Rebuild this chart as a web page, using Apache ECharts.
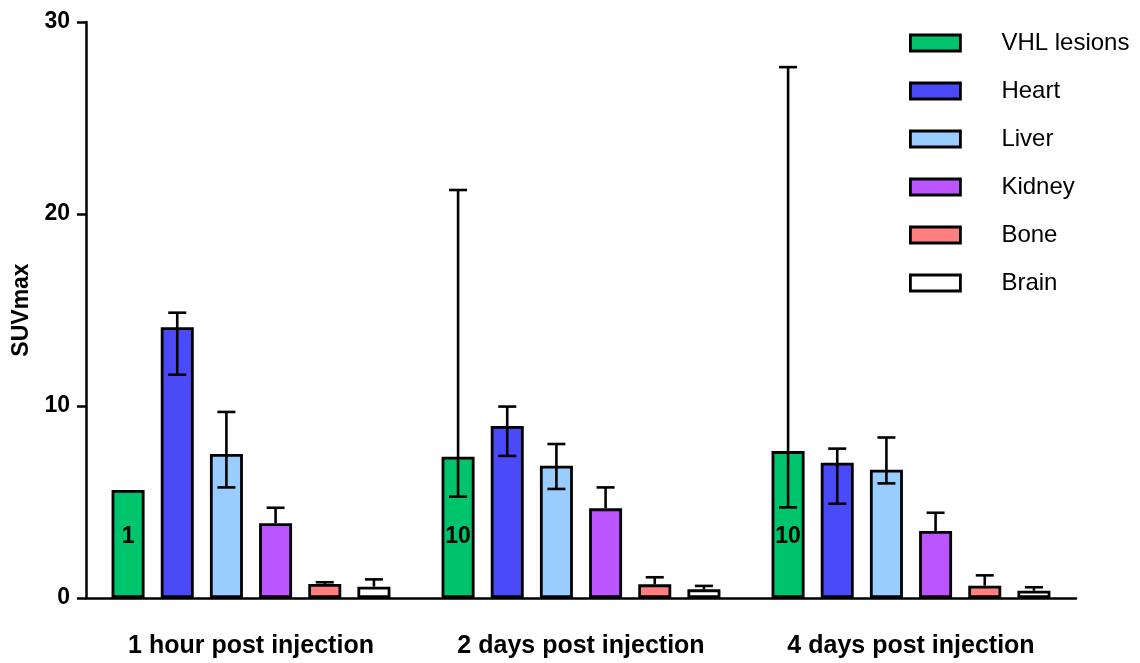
<!DOCTYPE html>
<html>
<head>
<meta charset="utf-8">
<script src="https://cdn.jsdelivr.net/npm/echarts@6/dist/echarts.min.js"></script>
<style>
html,body{margin:0;padding:0;background:#fff;}
#chart{width:1140px;height:663px;}
</style>
</head>
<body>
<div id="chart"></div>
<script>
// ---- data ----
const categories = ['1 hour post injection', '2 days post injection', '4 days post injection'];
const seriesNames = ['VHL lesions', 'Heart', 'Liver', 'Kidney', 'Bone', 'Brain'];
const yTicks = [0, 10, 20, 30];

const vhl    = [5.63, 7.36, 7.65];
const heart  = [14.1, 8.96, 7.05];
const liver  = [7.5, 6.89, 6.68];
const kidney = [3.89, 4.67, 3.49];
const bone   = [0.73, 0.71, 0.64];
const brain  = [0.59, 0.45, 0.38];

const vhlHigh    = [null, 21.25, 27.65];
const vhlLow     = [null, 5.28, 4.72];
const heartHigh  = [14.86, 9.97, 7.78];
const heartLow   = [11.63, 7.40, 4.91];
const liverHigh  = [9.69, 8.02, 8.36];
const liverLow   = [5.76, 5.68, 5.97];
const kidneyHigh = [4.70, 5.76, 4.44];
const kidneyLow  = [null, null, null];
const boneHigh   = [0.82, 1.08, 1.18];
const boneLow    = [null, null, null];
const brainHigh  = [0.97, 0.63, 0.56];
const brainLow   = [null, null, null];

const nLabels = ['1', '10', '10'];

// ---- styling ----
const colors = ['#00C46C', '#4A4AF8', '#99CCFF', '#BB55FF', '#FF7F7F', '#FFFFFF'];
const FONT = '"Liberation Sans", Arial, sans-serif';
const BAR_W = 33;
const BAR_GAP = 0.49;
const PITCH = BAR_W * (1 + BAR_GAP);

const means = [vhl, heart, liver, kidney, bone, brain];
const highs = [vhlHigh, heartHigh, liverHigh, kidneyHigh, boneHigh, brainHigh];
const lows  = [vhlLow, heartLow, liverLow, kidneyLow, boneLow, brainLow];

const series = [];
seriesNames.forEach((name, i) => {
  const s = {
    name: name,
    type: 'bar',
    barWidth: BAR_W,
    barGap: (BAR_GAP * 100) + '%',
    itemStyle: { color: colors[i], borderColor: '#000', borderWidth: 2.8 },
    data: means[i],
    z: 2
  };
  if (i === 0) {
    s.label = {
      show: true,
      position: 'insideBottom',
      distance: 50,
      formatter: (p) => nLabels[p.dataIndex],
      color: '#000',
      fontFamily: FONT,
      fontWeight: 'bold',
      fontSize: 23
    };
  }
  series.push(s);
});

seriesNames.forEach((name, i) => {
  const data = means[i].map((m, k) => [k, m, lows[i][k], highs[i][k]]);
  series.push({
    name: name + ' error',
    type: 'custom',
    z: 5,
    silent: true,
    data: data,
    encode: { x: 0, y: 1 },
    renderItem: function (params, api) {
      const k = api.value(0);
      const m = api.value(1);
      const lo = lows[i][k];
      const hi = highs[i][k];
      if (hi == null) return null;
      const base = api.coord([k, m]);
      const x = base[0] + (i - 2.5) * PITCH;
      const yHi = api.coord([k, hi])[1];
      const yLo = lo != null ? api.coord([k, lo])[1] : base[1];
      const cap = 9;
      const st = { stroke: '#000', lineWidth: 2.6 };
      const children = [
        { type: 'line', shape: { x1: x, y1: yLo, x2: x, y2: yHi }, style: st },
        { type: 'line', shape: { x1: x - cap, y1: yHi, x2: x + cap, y2: yHi }, style: st }
      ];
      if (lo != null) {
        children.push({ type: 'line', shape: { x1: x - cap, y1: yLo, x2: x + cap, y2: yLo }, style: st });
      }
      return { type: 'group', children: children };
    }
  });
});

const chart = echarts.init(document.getElementById('chart'), null, { renderer: 'canvas' });
chart.setOption({
  animation: false,
  backgroundColor: '#fff',
  grid: { left: 86, right: 64, top: 22, bottom: 65, containLabel: false },
  legend: {
    data: seriesNames.map(n => ({ name: n, icon: 'rect' })),
    orient: 'vertical',
    left: 909,
    top: 31,
    padding: 0,
    itemWidth: 50,
    itemHeight: 16,
    itemGap: 24,
    selectedMode: false,
    itemStyle: { borderColor: '#000', borderWidth: 2.8 },
    textStyle: {
      fontFamily: FONT,
      fontSize: 24,
      lineHeight: 24,
      color: '#000',
      padding: [0, 0, 0, 36]
    }
  },
  xAxis: {
    type: 'category',
    data: categories,
    boundaryGap: true,
    axisLine: { show: true, lineStyle: { color: '#000', width: 2.5 } },
    axisTick: { show: false },
    axisLabel: {
      color: '#000',
      fontFamily: FONT,
      fontWeight: 'bold',
      fontSize: 25,
      margin: 36
    },
    splitLine: { show: false }
  },
  yAxis: {
    type: 'value',
    min: yTicks[0],
    max: yTicks[yTicks.length - 1],
    interval: 10,
    name: 'SUVmax',
    nameLocation: 'middle',
    nameGap: 52,
    nameTextStyle: {
      color: '#000',
      fontFamily: FONT,
      fontWeight: 'bold',
      fontSize: 23
    },
    axisLine: { show: true, lineStyle: { color: '#000', width: 2.5 } },
    axisTick: { show: true, length: 9, lineStyle: { color: '#000', width: 2.5 } },
    axisLabel: {
      color: '#000',
      fontFamily: FONT,
      fontWeight: 'bold',
      fontSize: 23,
      margin: 16
    },
    splitLine: { show: false }
  },
  series: series
});
</script>
</body>
</html>
